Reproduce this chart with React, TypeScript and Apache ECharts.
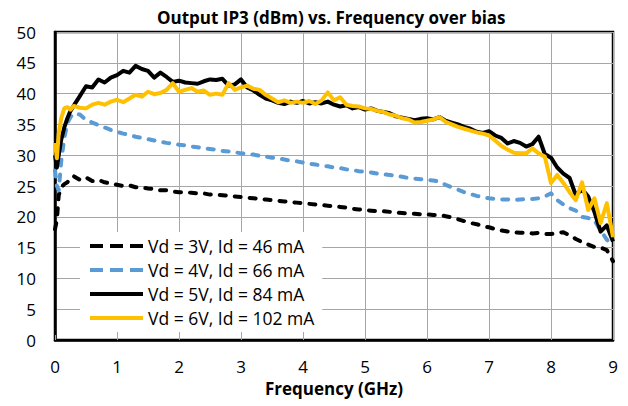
import React, { useEffect, useRef } from "react";
import * as echarts from "echarts";

const freq = [
  0, 0.03, 0.06, 0.1, 0.15, 0.2, 0.25, 0.3,
  0.4, 0.5, 0.6, 0.7, 0.8, 0.9, 1.0,
  1.1, 1.2, 1.3, 1.4, 1.5, 1.6, 1.7, 1.8, 1.9, 2.0,
  2.1, 2.2, 2.3, 2.4, 2.5, 2.6, 2.7, 2.8, 2.9, 3.0,
  3.1, 3.2, 3.3, 3.4, 3.5, 3.6, 3.7, 3.8, 3.9, 4.0,
  4.1, 4.2, 4.3, 4.4, 4.5, 4.6, 4.7, 4.8, 4.9, 5.0,
  5.1, 5.2, 5.3, 5.4, 5.5, 5.6, 5.7, 5.8, 5.9, 6.0,
  6.1, 6.2, 6.3, 6.4, 6.5, 6.6, 6.7, 6.8, 6.9, 7.0,
  7.1, 7.2, 7.3, 7.4, 7.5, 7.6, 7.7, 7.8, 7.9, 8.0,
  8.1, 8.2, 8.3, 8.4, 8.5, 8.6, 8.7, 8.8, 8.9, 9.0,
];

const vd3 = [
  18.0, 19.5, 23.5, 24.8, 25.3, 25.6, 26.3, 26.6,
  26.0, 26.4, 25.8, 26.0, 25.6, 25.4, 25.2,
  25.0, 25.1, 24.8, 24.8, 24.6, 24.5, 24.3, 24.3, 24.1, 24.0,
  24.0, 23.9, 23.8, 23.8, 23.6, 23.6, 23.5, 23.4, 23.3, 23.2,
  23.1, 23.0, 22.9, 22.8, 22.7, 22.6, 22.5, 22.4, 22.3, 22.2,
  22.1, 22.0, 21.9, 21.8, 21.7, 21.6, 21.5, 21.3, 21.2, 21.1,
  21.0, 20.9, 20.9, 20.8, 20.7, 20.6, 20.5, 20.5, 20.4, 20.4,
  20.3, 20.3, 20.1, 19.9, 19.6, 19.3, 19.0, 18.8, 18.5, 18.3,
  18.0, 17.8, 17.6, 17.5, 17.4, 17.4, 17.3, 17.4, 17.2, 17.2,
  17.4, 17.5, 17.0, 16.4, 15.9, 15.5, 15.1, 15.0, 14.6, 12.8,
];

const vd4 = [
  27.5, 25.0, 24.3, 29.0, 32.8, 35.2, 36.2, 36.8,
  36.6, 35.7, 35.3, 34.9, 34.5, 34.1, 33.8,
  33.5, 33.3, 33.0, 32.8, 32.6, 32.4, 32.2, 32.0, 31.9, 31.7,
  31.6, 31.4, 31.3, 31.1, 31.0, 30.9, 30.7, 30.6, 30.5, 30.3,
  30.2, 30.1, 29.9, 29.8, 29.6, 29.5, 29.3, 29.1, 29.0, 28.8,
  28.6, 28.5, 28.3, 28.2, 28.0, 27.9, 27.7, 27.6, 27.4, 27.3,
  27.2, 27.0, 26.9, 26.8, 26.6, 26.5, 26.3, 26.2, 26.1, 26.0,
  25.9, 25.7, 25.2, 24.8, 24.4, 24.0, 23.7, 23.4, 23.2, 23.0,
  22.9, 22.8, 22.8, 22.7, 22.8, 22.9, 22.9, 23.0, 23.3, 23.8,
  22.7, 22.0, 21.4, 21.0, 20.0, 19.8, 19.4, 17.8, 16.3, 15.1,
];

const vd5 = [
  30.0, 28.0, 30.0, 32.5, 34.5, 36.0, 37.2, 38.0,
  39.6, 41.2, 41.0, 42.3, 41.8, 42.6, 43.0,
  43.7, 43.4, 44.5, 44.0, 43.7, 42.6, 43.4, 42.7, 41.9, 42.1,
  41.8, 41.7, 41.6, 42.0, 42.3, 42.2, 42.4, 41.3, 41.5, 42.3,
  41.0, 40.5, 39.8, 39.2, 38.9, 38.5, 38.3, 38.7, 38.5, 38.8,
  38.4, 38.6, 38.4, 38.7, 38.2, 37.9, 38.1, 37.6, 37.8, 37.4,
  37.6, 37.2, 37.0, 36.8, 36.3, 36.1, 35.9, 35.7, 35.9, 36.0,
  35.8, 36.2, 35.6, 35.3, 35.0, 34.6, 34.3, 33.8, 33.6, 33.9,
  33.2, 32.8, 31.9, 32.3, 32.0, 31.4, 31.8, 33.0, 30.2, 29.6,
  28.0, 27.0, 26.3, 23.5, 24.5, 23.3, 20.8, 17.6, 18.6, 16.0,
];

const vd6 = [
  32.0, 29.5, 33.5, 36.0, 37.6, 37.8, 37.4, 38.0,
  37.7, 37.6, 38.2, 38.5, 38.2, 38.7, 39.0,
  38.6, 39.2, 39.8, 39.5, 40.3, 39.9, 40.1, 40.6, 41.7, 40.3,
  40.6, 40.9, 40.3, 40.5, 39.8, 40.0, 39.8, 41.7, 40.6, 41.0,
  41.3, 40.8, 40.6, 39.8, 39.2, 38.6, 38.9, 38.5, 38.7, 38.5,
  38.8, 38.3, 38.9, 40.2, 38.9, 39.4, 38.2, 38.0, 37.9, 37.6,
  37.5, 37.2, 37.0, 36.6, 36.4, 36.0, 35.8, 35.3, 35.4, 35.6,
  35.8, 36.2, 35.4, 35.0, 34.6, 34.3, 34.0, 33.7, 33.5, 33.2,
  32.4, 31.5, 30.9, 30.4, 30.3, 30.3, 31.1, 30.3, 29.8, 25.5,
  26.8, 25.5, 24.0, 22.7, 25.6, 21.1, 23.0, 19.0, 22.2, 16.7,
];

const seriesNames = [
  "Vd = 3V, Id = 46 mA",
  "Vd = 4V, Id = 66 mA",
  "Vd = 5V, Id = 84 mA",
  "Vd = 6V, Id = 102 mA",
];

const FONT = "Open Sans";
const DASH_ICON = "path://M0,0h13v4h-13z M20,0h13v4h-13z M40,0h13v4h-13z";
const SOLID_ICON = "path://M0,0h53v4h-53z";

export default function App() {
  const ref = useRef<HTMLDivElement>(null);
  useEffect(() => {
    if (!ref.current) return;
    const chart = echarts.init(ref.current, null, { renderer: "svg" });
    const pairs = (vals: number[]) => freq.map((f, i) => [f, vals[i]]);
    const mk = (name: string, vals: number[], color: string, dashed: boolean, z: number) => ({
      name,
      type: "line",
      data: pairs(vals),
      showSymbol: false,
      symbol: "none",
      z,
      lineStyle: {
        color,
        width: 4,
        type: dashed ? [6, 9] : "solid",
        cap: dashed ? "round" : "butt",
        join: "round",
      },
      itemStyle: { color },
    });
    chart.setOption({
      animation: false,
      backgroundColor: "#fff",
      title: {
        text: "Output IP3 (dBm) vs. Frequency over bias",
        left: 152,
        top: 4,
        textStyle: { fontFamily: FONT, fontSize: 17, fontWeight: "bold", color: "#000" },
      },
      grid: {
        left: 55,
        right: 15,
        top: 32,
        bottom: 66,
        show: true,
        borderColor: "#000",
        borderWidth: 2.5,
        backgroundColor: "transparent",
      },
      legend: {
        orient: "vertical",
        left: 80,
        top: 232,
        padding: [5, 8, 5, 10],
        itemGap: 6,
        itemWidth: 53,
        itemHeight: 4,
        backgroundColor: "#fff",
        data: [
          { name: seriesNames[0], icon: DASH_ICON },
          { name: seriesNames[1], icon: DASH_ICON },
          { name: seriesNames[2], icon: SOLID_ICON },
          { name: seriesNames[3], icon: SOLID_ICON },
        ],
        textStyle: { fontFamily: FONT, fontSize: 17.5, color: "#000" },
      },
      xAxis: {
        type: "value",
        min: 0,
        max: 9,
        interval: 1,
        name: "Frequency (GHz)",
        nameLocation: "middle",
        nameGap: 35,
        nameTextStyle: { fontFamily: FONT, fontSize: 17, fontWeight: "bold", color: "#000" },
        axisLine: { show: true, lineStyle: { color: "#000", width: 2.5 } },
        axisTick: { show: true, inside: true, length: 5, lineStyle: { color: "#a6a6a6" } },
        axisLabel: { fontFamily: FONT, fontSize: 17, color: "#000", margin: 18 },
        splitLine: { show: true, lineStyle: { color: "#a6a6a6", width: 1 } },
      },
      yAxis: {
        type: "value",
        min: 0,
        max: 50,
        interval: 5,
        axisLine: { show: true, lineStyle: { color: "#000", width: 2.5 } },
        axisTick: { show: false },
        axisLabel: { fontFamily: FONT, fontSize: 17, color: "#000", margin: 19 },
        splitLine: { show: true, lineStyle: { color: "#a6a6a6", width: 1 } },
      },
      series: [
        mk(seriesNames[0], vd3, "#000000", true, 2),
        mk(seriesNames[1], vd4, "#5b9bd5", true, 3),
        mk(seriesNames[2], vd5, "#000000", false, 4),
        mk(seriesNames[3], vd6, "#ffc000", false, 5),
      ],
    });
    return () => chart.dispose();
  }, []);
  return <div ref={ref} style={{ width: 628, height: 406, position: "fixed", left: 0, top: 0 }} />;
}
